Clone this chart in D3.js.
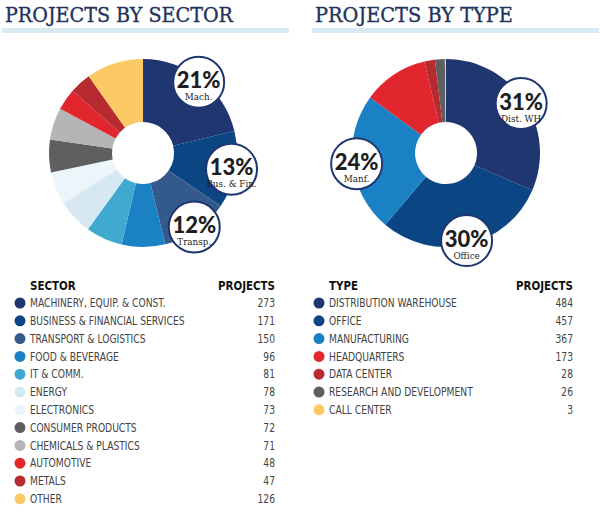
<!DOCTYPE html>
<html><head><meta charset="utf-8">
<script src="https://cdn.jsdelivr.net/npm/d3@7"></script>
<style>
body{margin:0;background:#fff;}
svg{display:block;}
</style></head>
<body>
<svg id="c" width="600" height="515"></svg>
<script>
// ---- data ----
const sectorNames = ["MACHINERY, EQUIP. & CONST.","BUSINESS & FINANCIAL SERVICES","TRANSPORT & LOGISTICS","FOOD & BEVERAGE","IT & COMM.","ENERGY","ELECTRONICS","CONSUMER PRODUCTS","CHEMICALS & PLASTICS","AUTOMOTIVE","METALS","OTHER"];
const sectorValues = [273,171,150,96,81,78,73,72,71,48,47,126];
const sectorColors = ["#1f3671","#0b4584","#335a8b","#1b81c5","#40a9d0","#d6e9f3","#ebf5fa","#5f5f5f","#b5b5b8","#e1262d","#b62a30","#fdc964"];
const sectorCallouts = ["Mach.","Bus. & Fin.","Transp."]; // first three slices

const typeNames = ["DISTRIBUTION WAREHOUSE","OFFICE","MANUFACTURING","HEADQUARTERS","DATA CENTER","RESEARCH AND DEVELOPMENT","CALL CENTER"];
const typeValues = [484,457,367,173,28,26,3];
const typeColors = ["#1f3671","#0b4584","#1b81c5","#e1262d","#b62a30","#5f5f5f","#fdc964"];
const typeCallouts = ["Dist. WH","Office","Manf."];

const titles = ["PROJECTS BY SECTOR","PROJECTS BY TYPE"];
const headers = [["SECTOR","PROJECTS"],["TYPE","PROJECTS"]];

// ---- drawing ----
const svg = d3.select("#c");
const navy = "#1f3671";

function panel(x0, title, hdr, names, values, colors, callouts, cx, legX, valX) {
  const g = svg.append("g");
  g.append("rect").attr("x", x0 + 2).attr("y", 28).attr("width", 287).attr("height", 5).attr("fill", "#d8eaf3");
  g.append("text").attr("x", x0 + 5).attr("y", 22).text(title)
    .attr("font-family", "'DejaVu Serif', serif").attr("font-size", 20).attr("fill", "#22345d")
    .attr("stroke", "#22345d").attr("stroke-width", 0.35)
    .attr("textLength", x0 === 0 ? 228 : 198).attr("lengthAdjust", "spacingAndGlyphs");

  const total = d3.sum(values);
  const pie = d3.pie().sort(null).value(d => d)(values);
  const arc = d3.arc().innerRadius(31).outerRadius(94);
  const callArc = d3.arc().innerRadius(90).outerRadius(90);
  const pg = g.append("g").attr("transform", `translate(${cx},153)`);
  pg.selectAll("path").data(pie).join("path").attr("d", arc).attr("fill", (d, i) => colors[i]);

  callouts.forEach((lab, i) => {
    const [px, py] = callArc.centroid(pie[i]);
    const cg = pg.append("g").attr("transform", `translate(${px},${py})`);
    cg.append("circle").attr("r", 25.5).attr("fill", "#fff").attr("stroke", navy).attr("stroke-width", 2);
    cg.append("text").attr("y", 6).attr("text-anchor", "middle")
      .attr("font-family", "Lato, sans-serif").attr("font-weight", 900).attr("font-size", 22).attr("fill", "#1e1e1e")
      .text(Math.round(values[i] / total * 100) + "%");
    cg.append("text").attr("y", 18).attr("text-anchor", "middle")
      .attr("font-family", "'DejaVu Serif', serif").attr("font-size", 8.8).attr("fill", "#222")
      .text(lab);
  });

  const rowY = d3.scaleLinear().domain([0, 1]).range([303, 320.8]);
  const lg = g.append("g");
  const font = "'Liberation Sans Narrow','DejaVu Sans Condensed','Open Sans',sans-serif";
  const sx = 0.88;
  lg.append("text").attr("transform", `translate(${legX},290) scale(${sx},1)`).text(hdr[0])
    .attr("font-family", font).attr("font-weight", "bold").attr("font-size", 13).attr("fill", "#111");
  lg.append("text").attr("transform", `translate(${valX},290) scale(${sx},1)`).attr("text-anchor", "end").text(hdr[1])
    .attr("font-family", font).attr("font-weight", "bold").attr("font-size", 13).attr("fill", "#111");
  const rows = lg.selectAll("g.row").data(names).join("g").attr("class", "row")
    .attr("transform", (d, i) => `translate(0,${rowY(i)})`);
  rows.append("circle").attr("cx", legX - 10).attr("cy", 0).attr("r", 5.5).attr("fill", (d, i) => colors[i]);
  rows.append("text").attr("transform", `translate(${legX},4.2) scale(${sx},1)`).text(d => d)
    .attr("font-family", font).attr("font-size", 11.6).attr("fill", "#444");
  rows.append("text").attr("transform", `translate(${valX},4.2) scale(${sx},1)`).attr("text-anchor", "end").text((d, i) => values[i])
    .attr("font-family", font).attr("font-size", 11.6).attr("fill", "#444");
}

panel(0, titles[0], headers[0], sectorNames, sectorValues, sectorColors, sectorCallouts, 143, 30, 275);
panel(310, titles[1], headers[1], typeNames, typeValues, typeColors, typeCallouts, 446, 329, 573);
</script>
</body></html>
